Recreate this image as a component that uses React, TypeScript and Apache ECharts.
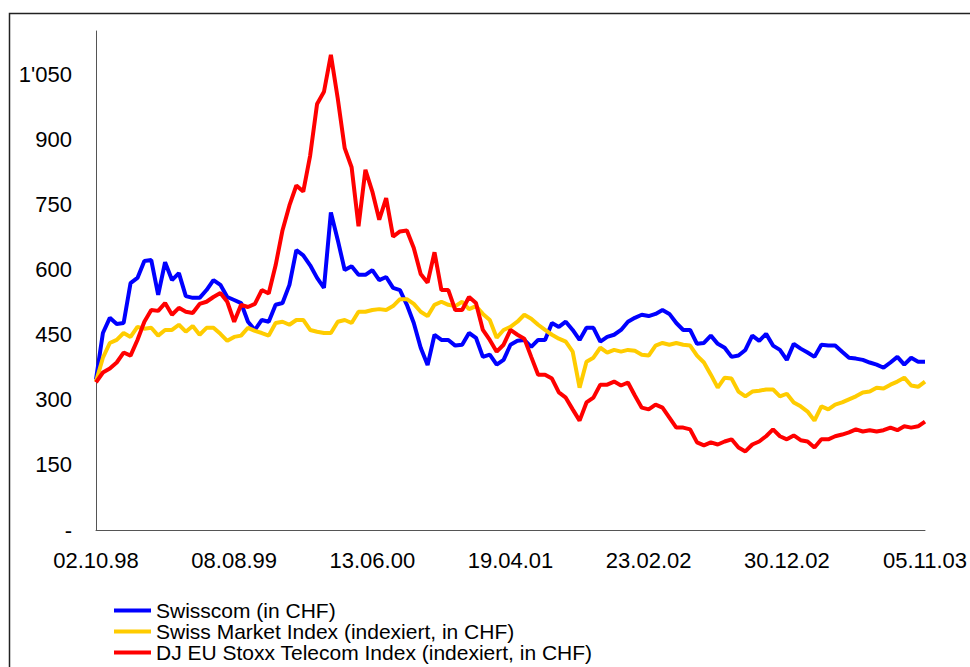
import React, { useEffect, useRef } from "react";
import * as echarts from "echarts";

const tickLabels = ["02.10.98", "08.08.99", "13.06.00", "19.04.01", "23.02.02", "30.12.02", "05.11.03"];
const pointsPerLabel = 20;

const seriesNames = [
  "Swisscom (in CHF)",
  "Swiss Market Index (indexiert, in CHF)",
  "DJ EU Stoxx Telecom Index (indexiert, in CHF)",
];
const seriesColors = ["#0000FF", "#FFCC00", "#FF0000"];

const swisscom = [
  347, 454, 489, 475, 477, 569, 581, 620, 622, 542,
  617, 576, 592, 539, 535, 535, 553, 576, 565, 537,
  530, 523, 480, 461, 484, 480, 519, 523, 565, 645,
  633, 610, 581, 558, 732, 668, 599, 608, 588, 588,
  599, 576, 583, 558, 553, 519, 477, 420, 380, 450,
  438, 438, 425, 427, 454, 443, 399, 404, 381, 392,
  427, 436, 438, 422, 438, 438, 477, 468, 480, 461,
  438, 466, 466, 434, 445, 450, 461, 480, 489, 496,
  493, 498, 507, 498, 477, 461, 461, 429, 431, 448,
  429, 420, 399, 402, 415, 448, 436, 452, 425, 415,
  392, 429, 418, 409, 399, 427, 425, 425, 411, 397,
  395, 392, 386, 381, 374, 386, 399, 381, 397, 388, 388,
];

const smi = [
  342, 397, 431, 438, 454, 445, 468, 464, 466, 448,
  461, 461, 473, 457, 470, 450, 466, 466, 452, 436,
  445, 448, 466, 459, 454, 448, 477, 480, 473, 484,
  484, 461, 457, 454, 454, 480, 484, 477, 503, 503,
  507, 509, 507, 516, 532, 532, 521, 503, 493, 519,
  526, 519, 516, 526, 509, 516, 498, 484, 443, 461,
  468, 480, 496, 487, 473, 461, 450, 441, 434, 411,
  328, 388, 397, 420, 409, 415, 411, 415, 413, 404,
  402, 425, 431, 427, 431, 427, 425, 402, 386, 358,
  328, 351, 349, 319, 308, 319, 321, 324, 324, 308,
  314, 294, 285, 273, 252, 285, 278, 289, 294, 301,
  308, 317, 319, 328, 326, 335, 342, 351, 333, 330, 342,
];

const djStoxx = [
  340, 363, 372, 386, 409, 402, 438, 480, 507, 505,
  523, 496, 512, 503, 500, 521, 526, 537, 546, 526,
  480, 519, 514, 521, 553, 545, 610, 691, 748, 794,
  780, 863, 982, 1010, 1095, 994, 880, 836, 700, 830,
  780, 715, 765, 676, 688, 690, 650, 590, 570, 640,
  553, 553, 507, 507, 537, 523, 461, 438, 411, 427,
  461, 450, 441, 399, 358, 358, 349, 317, 305, 278,
  252, 294, 305, 335, 335, 342, 333, 340, 310, 282,
  278, 289, 282, 259, 236, 236, 232, 202, 195, 202,
  197, 204, 209, 190, 181, 197, 204, 216, 232, 216,
  209, 218, 207, 204, 190, 209, 209, 216, 220, 225,
  232, 227, 230, 227, 230, 236, 230, 239, 236, 239, 250,
];

const allSeries = [swisscom, smi, djStoxx];
const FONT = "'Liberation Sans', Arial, sans-serif";

function formatY(v: number): string {
  if (v === 0) return "-";
  const s = String(Math.round(v));
  return s.replace(/\B(?=(\d{3})+(?!\d))/g, "'");
}

export default function App() {
  const ref = useRef<HTMLDivElement>(null);

  useEffect(() => {
    if (!ref.current) return;
    const chart = echarts.init(ref.current, undefined, { renderer: "svg" });
    const maxX = (tickLabels.length - 1) * pointsPerLabel;
    chart.setOption({
      animation: false,
      backgroundColor: "#ffffff",
      graphic: [
        {
          type: "rect",
          silent: true,
          shape: { x: 9.5, y: 13.5, width: 1200, height: 900 },
          style: { fill: "none", stroke: "#222222", lineWidth: 1.5 },
        },
      ],
      grid: { left: 96, right: 43, top: 31, bottom: 137, containLabel: false },
      xAxis: {
        type: "value",
        min: 0,
        max: maxX,
        interval: pointsPerLabel,
        axisLine: { show: true, lineStyle: { color: "#555555", width: 1 } },
        axisTick: { show: false },
        splitLine: { show: false },
        axisLabel: {
          margin: 19,
          fontSize: 22,
          fontFamily: FONT,
          color: "#000000",
          formatter: (v: number) => tickLabels[Math.round(v / pointsPerLabel)] ?? "",
        },
      },
      yAxis: {
        type: "value",
        min: 0,
        max: 1150,
        interval: 150,
        axisLine: { show: true, lineStyle: { color: "#555555", width: 1 } },
        axisTick: { show: false },
        splitLine: { show: false },
        axisLabel: {
          margin: 24,
          fontSize: 22,
          fontFamily: FONT,
          color: "#000000",
          showMaxLabel: false,
          formatter: (v: number) => formatY(v),
        },
      },
      legend: {
        orient: "vertical",
        left: 114,
        top: 600,
        itemWidth: 37,
        itemHeight: 4,
        itemGap: 0,
        icon: "rect",
        selectedMode: false,
        padding: 0,
        textStyle: { fontSize: 21, fontFamily: FONT, color: "#000000", lineHeight: 21 },
        data: seriesNames,
      },
      series: allSeries.map((vals, k) => ({
        name: seriesNames[k],
        type: "line",
        showSymbol: false,
        symbol: "none",
        color: seriesColors[k],
        lineStyle: { color: seriesColors[k], width: 4 },
        itemStyle: { color: seriesColors[k] },
        data: vals.map((v, i) => [i, v]),
        z: 2 + k,
      })),
    });
    return () => chart.dispose();
  }, []);

  return (
    <div
      ref={ref}
      style={{ position: "absolute", left: 0, top: 0, width: 970, height: 667 }}
    />
  );
}
